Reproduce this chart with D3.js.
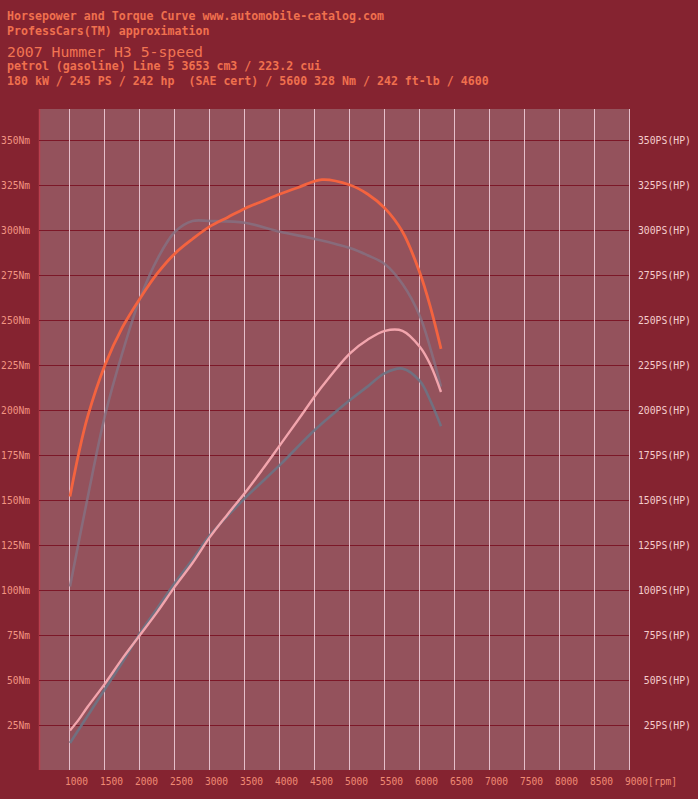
<!DOCTYPE html>
<html lang="en">
<head>
<meta charset="UTF-8">
<title>Horsepower and Torque Curve</title>
<script src="https://d3js.org/d3.v7.min.js"></script>
<style>
    body { margin: 0; background: #852330; }
    svg { display: block; }
    text { white-space: pre; }
</style>
</head>
<body>
<div id="chart"></div>
<script>
// header texts
const headLines = [
    "Horsepower and Torque Curve www.automobile-catalog.com",
    "ProfessCars(TM) approximation"
];
const titleText = "2007 Hummer H3 5-speed";
const infoLines = [
    "petrol (gasoline) Line 5 3653 cm3 / 223.2 cui",
    "180 kW / 245 PS / 242 hp  (SAE cert) / 5600 328 Nm / 242 ft-lb / 4600"
];

// axis ticks
const rpmTicks = [1000, 1500, 2000, 2500, 3000, 3500, 4000, 4500, 5000, 5500, 6000, 6500, 7000, 7500, 8000, 8500, 9000];
const valTicks = [25, 50, 75, 100, 125, 150, 175, 200, 225, 250, 275, 300, 325, 350];

// main curve (orange torque, pink power)
const rpm = [1000, 1125, 1250, 1500, 1750, 2000, 2250, 2500, 2750, 3000, 3250, 3500, 3750, 4000, 4250, 4600, 5000, 5250, 5500, 5750, 6000, 6150, 6300];
const torqueNm = [152, 176, 196, 225, 246, 262, 276, 287, 295, 302, 307, 312, 316, 320, 323.5, 328, 325, 320, 312, 299, 276, 257, 234];
const powerPS = [22, 28, 35, 48, 62, 75, 88, 102, 115, 129.5, 142, 154, 167, 180.5, 194, 213, 231.5, 239, 244, 244, 235, 225, 210];

// gray comparison curve
const rpmGray = [1000, 1250, 1500, 1750, 2000, 2250, 2500, 2750, 3000, 3500, 4000, 4500, 5000, 5250, 5500, 5750, 6000, 6150, 6300];
const torqueGray = [102, 151, 197, 232, 262, 284, 299, 305, 305, 304, 299, 295, 290, 286, 281, 270, 252, 234, 213];
const powerGray = [15, 30, 45, 60, 76, 90, 104, 117, 130.5, 151, 169.5, 189, 205.5, 213, 220.5, 223, 216, 205, 191];

const W = 698, H = 799;
const plot = {left: 39, right: 630, top: 109, bottom: 770};

const svg = d3.select("#chart").append("svg")
    .attr("width", W)
    .attr("height", H);

svg.append("rect").attr("width", W).attr("height", H).attr("fill", "#852330");

const x = d3.scaleLinear().domain([1000, 9000]).range([70, 630]);
const y = d3.scaleLinear().domain([0, 350]).range([770, 140]);

// plot area
svg.append("rect")
    .attr("x", plot.left).attr("y", plot.top)
    .attr("width", plot.right - plot.left).attr("height", plot.bottom - plot.top)
    .attr("fill", "#94525c");
svg.append("line")
    .attr("x1", plot.left + 0.5).attr("x2", plot.left + 0.5)
    .attr("y1", plot.top).attr("y2", plot.bottom)
    .attr("stroke", "#b8404e").attr("stroke-width", 1.5);

// grid
svg.append("g").selectAll("line")
    .data(valTicks)
    .enter().append("line")
    .attr("x1", plot.left).attr("x2", plot.right)
    .attr("y1", d => Math.round(y(d)) + 0.5).attr("y2", d => Math.round(y(d)) + 0.5)
    .attr("stroke", "#7c1828").attr("stroke-width", 1);

svg.append("g").selectAll("line")
    .data(rpmTicks)
    .enter().append("line")
    .attr("x1", d => Math.round(x(d)) - 0.5).attr("x2", d => Math.round(x(d)) - 0.5)
    .attr("y1", plot.top).attr("y2", plot.bottom)
    .attr("stroke", "#e6bfcb").attr("stroke-width", 1);

// tick labels
const mono = "'DejaVu Sans Mono', monospace";

svg.append("g").selectAll("text")
    .data(valTicks)
    .enter().append("text")
    .attr("x", 30).attr("y", d => y(d) + 3.5)
    .attr("text-anchor", "end")
    .attr("font-family", mono).attr("font-size", 9.6)
    .attr("fill", "#f29482")
    .text(d => d + "Nm");

svg.append("g").selectAll("text")
    .data(valTicks)
    .enter().append("text")
    .attr("x", 691).attr("y", d => y(d) + 3.5)
    .attr("text-anchor", "end")
    .attr("font-family", mono).attr("font-size", 9.8)
    .attr("fill", "#f4cccc")
    .text(d => d + "PS(HP)");

svg.append("g").selectAll("text")
    .data(rpmTicks)
    .enter().append("text")
    .attr("x", d => x(d) - 5).attr("y", 785)
    .attr("font-family", mono).attr("font-size", 9.6)
    .attr("fill", "#f08a74")
    .text(d => d === 9000 ? d + "[rpm]" : d);

// curves
const line = (xs, ys) => d3.line()
    .x((d, i) => x(xs[i]))
    .y(d => y(d))
    .curve(d3.curveCatmullRom.alpha(0.5))(ys);

svg.append("path").attr("d", line(rpmGray, torqueGray))
    .attr("fill", "none").attr("stroke", "#867080").attr("stroke-width", 2.6).attr("opacity", 0.85);
svg.append("path").attr("d", line(rpmGray, powerGray))
    .attr("fill", "none").attr("stroke", "#6d7384").attr("stroke-width", 2.6).attr("opacity", 0.9);
svg.append("path").attr("d", line(rpm, torqueNm))
    .attr("fill", "none").attr("stroke", "#f4633f").attr("stroke-width", 2.8);
svg.append("path").attr("d", line(rpm, powerPS))
    .attr("fill", "none").attr("stroke", "#f2a5ad").attr("stroke-width", 2.4);

// header
svg.append("g").selectAll("text")
    .data(headLines)
    .enter().append("text")
    .attr("x", 7).attr("y", (d, i) => 20 + i * 15)
    .attr("font-family", mono).attr("font-size", 11.6).attr("font-weight", "bold")
    .attr("fill", "#f0704e")
    .text(d => d);

svg.append("text")
    .attr("x", 7).attr("y", 57)
    .attr("font-family", mono).attr("font-size", 14.8)
    .attr("fill", "#f27452")
    .text(titleText);

svg.append("g").selectAll("text")
    .data(infoLines)
    .enter().append("text")
    .attr("x", 7).attr("y", (d, i) => 70 + i * 15)
    .attr("font-family", mono).attr("font-size", 11.6).attr("font-weight", "bold")
    .attr("fill", "#f0704e")
    .text(d => d);
</script>
</body>
</html>
